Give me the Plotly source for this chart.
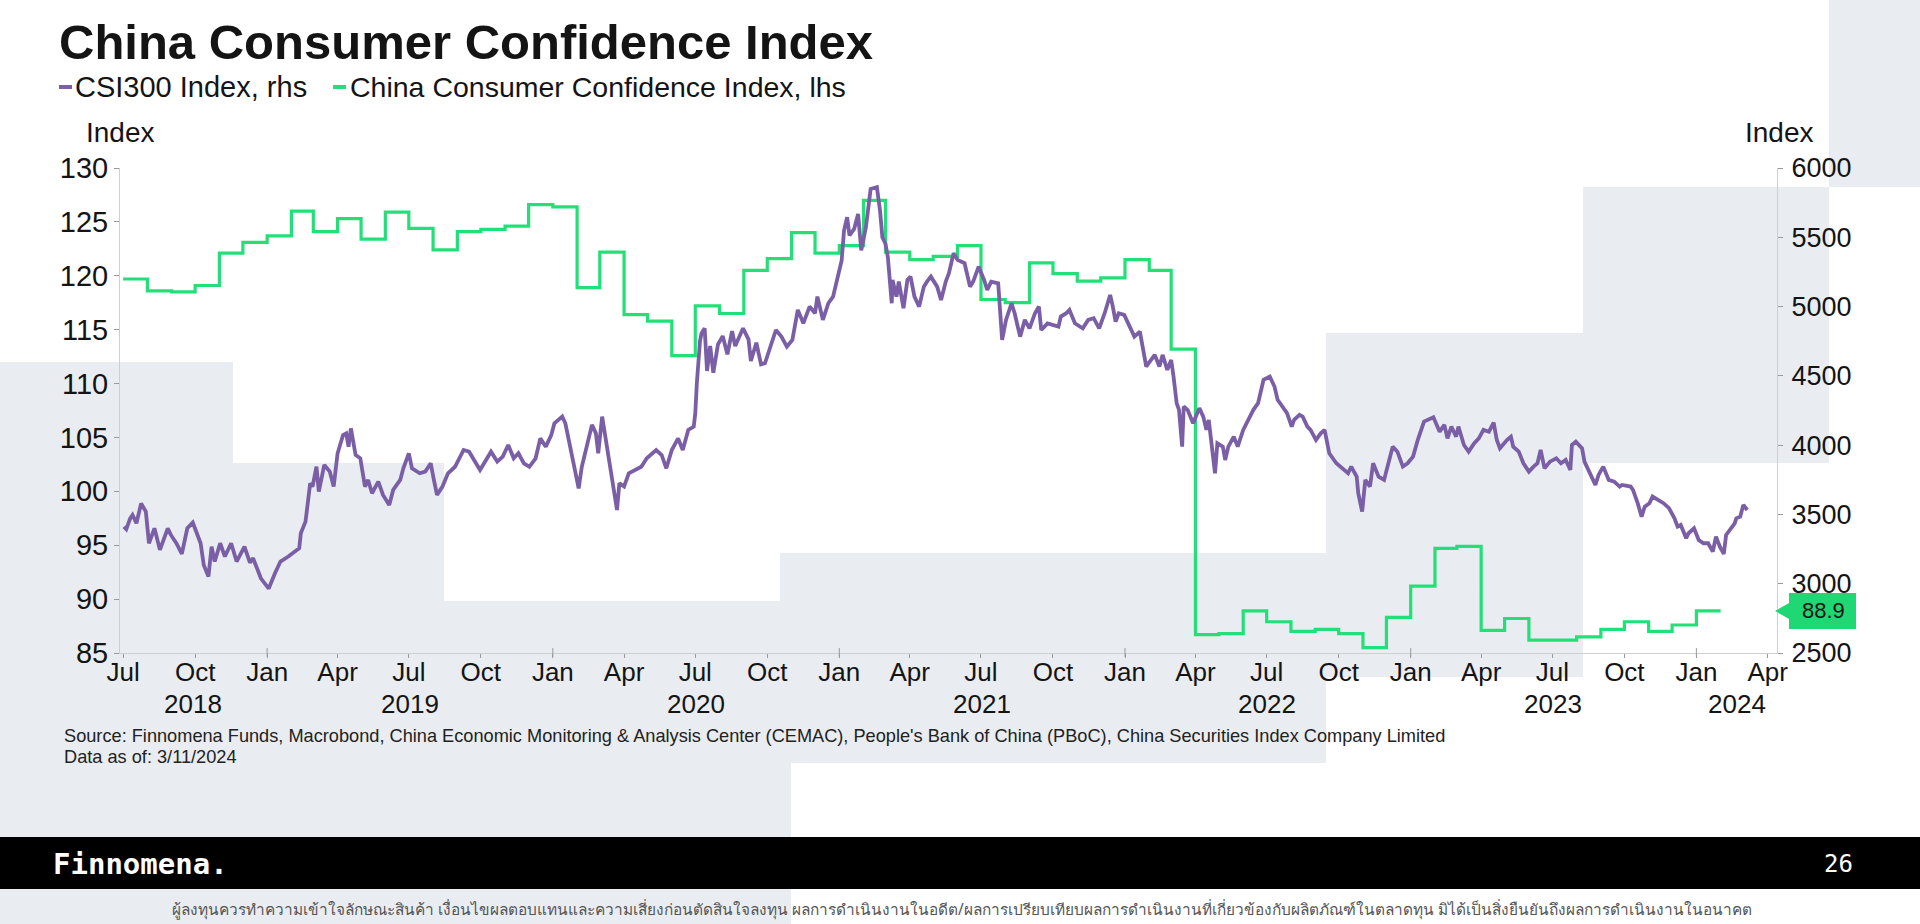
import pandas as pd
import plotly.graph_objects as go

# ---------------- data ----------------
cci_start = "2018-07-01"
cci_values = [
    119.7, 118.6, 118.5, 119.1, 122.1, 123.1,
    123.7, 126.0, 124.1, 125.3, 123.4, 125.9, 124.4, 122.4, 124.1, 124.3, 124.6, 126.6,
    126.4, 118.9, 122.2, 116.4, 115.8, 112.6, 117.2, 116.5, 120.5, 121.6, 124.0, 122.1,
    122.8, 127.0, 122.2, 121.5, 121.8, 122.8, 117.8, 117.5, 121.2, 120.2, 119.5, 119.8,
    121.5, 120.5, 113.2, 86.7, 86.8, 88.9, 87.9, 87.0, 87.2, 86.8, 85.5, 88.3,
    91.2, 94.7, 94.9, 87.1, 88.2, 86.2, 86.2, 86.5, 87.2, 87.9, 87.0, 87.6,
    88.9,
]

csi_dates = [
    "2018-07-02", "2018-07-05", "2018-07-10", "2018-07-13", "2018-07-18", "2018-07-24", "2018-07-30",
    "2018-08-03", "2018-08-10", "2018-08-17", "2018-08-27", "2018-08-31", "2018-09-07", "2018-09-14",
    "2018-09-21", "2018-09-28", "2018-10-08", "2018-10-12", "2018-10-18", "2018-10-22", "2018-10-26",
    "2018-11-02", "2018-11-08", "2018-11-16", "2018-11-23", "2018-12-03", "2018-12-10", "2018-12-14",
    "2018-12-24",
    "2019-01-03", "2019-01-11", "2019-01-18", "2019-01-28", "2019-02-11", "2019-02-13", "2019-02-19",
    "2019-02-25", "2019-02-28", "2019-03-05", "2019-03-08", "2019-03-15", "2019-03-22", "2019-03-27",
    "2019-04-01", "2019-04-08", "2019-04-12", "2019-04-15", "2019-04-18", "2019-04-24", "2019-04-30",
    "2019-05-06", "2019-05-10", "2019-05-15", "2019-05-23", "2019-05-29", "2019-06-06", "2019-06-11",
    "2019-06-20", "2019-06-24", "2019-07-01", "2019-07-05", "2019-07-15", "2019-07-22", "2019-07-29",
    "2019-08-02", "2019-08-06", "2019-08-13", "2019-08-20", "2019-08-29", "2019-09-09", "2019-09-16",
    "2019-09-23", "2019-09-30", "2019-10-14", "2019-10-22", "2019-10-29", "2019-11-05", "2019-11-12",
    "2019-11-18", "2019-11-25", "2019-12-02", "2019-12-10", "2019-12-16", "2019-12-23", "2019-12-30",
    "2020-01-03", "2020-01-13", "2020-01-17", "2020-01-23", "2020-02-03", "2020-02-07", "2020-02-13",
    "2020-02-20", "2020-02-25", "2020-02-28", "2020-03-04", "2020-03-09", "2020-03-13", "2020-03-17",
    "2020-03-23", "2020-03-26", "2020-04-01", "2020-04-07", "2020-04-16", "2020-04-23", "2020-04-30",
    "2020-05-12", "2020-05-19", "2020-05-25", "2020-06-01", "2020-06-09", "2020-06-15", "2020-06-22",
    "2020-06-29", "2020-07-01", "2020-07-03", "2020-07-07", "2020-07-09", "2020-07-13", "2020-07-16",
    "2020-07-20", "2020-07-24", "2020-07-30", "2020-08-05", "2020-08-11", "2020-08-17", "2020-08-21",
    "2020-08-31", "2020-09-07", "2020-09-10", "2020-09-17", "2020-09-23", "2020-09-28", "2020-10-12",
    "2020-10-19", "2020-10-26", "2020-11-02", "2020-11-09", "2020-11-16", "2020-11-24", "2020-12-01",
    "2020-12-04", "2020-12-11", "2020-12-18", "2020-12-24",
    "2021-01-04", "2021-01-07", "2021-01-11", "2021-01-14", "2021-01-20", "2021-01-25", "2021-01-29",
    "2021-02-04", "2021-02-10", "2021-02-18", "2021-02-22", "2021-02-25", "2021-03-01", "2021-03-04",
    "2021-03-09", "2021-03-10", "2021-03-15", "2021-03-18", "2021-03-24", "2021-03-29", "2021-04-02",
    "2021-04-07", "2021-04-13", "2021-04-19", "2021-04-23", "2021-04-28", "2021-05-06", "2021-05-11",
    "2021-05-17", "2021-05-21", "2021-05-27", "2021-06-01", "2021-06-10", "2021-06-17", "2021-06-21",
    "2021-06-28", "2021-07-05", "2021-07-09", "2021-07-14", "2021-07-23", "2021-07-28", "2021-08-02",
    "2021-08-09", "2021-08-13", "2021-08-20", "2021-08-26", "2021-09-01", "2021-09-08", "2021-09-13",
    "2021-09-16", "2021-09-24", "2021-10-08", "2021-10-11", "2021-10-18", "2021-10-22", "2021-10-29",
    "2021-11-08", "2021-11-15", "2021-11-22", "2021-11-29", "2021-12-06", "2021-12-13", "2021-12-16",
    "2021-12-20", "2021-12-24", "2021-12-31",
    "2022-01-07", "2022-01-13", "2022-01-20", "2022-01-24", "2022-01-27", "2022-01-28", "2022-02-08",
    "2022-02-14", "2022-02-18", "2022-02-24", "2022-03-01", "2022-03-04", "2022-03-08", "2022-03-11",
    "2022-03-15", "2022-03-17", "2022-03-22", "2022-03-29", "2022-04-06", "2022-04-11", "2022-04-15",
    "2022-04-18", "2022-04-22", "2022-04-26", "2022-04-29", "2022-05-06", "2022-05-09", "2022-05-13",
    "2022-05-20", "2022-05-25", "2022-06-01", "2022-06-07", "2022-06-14", "2022-06-20", "2022-06-27",
    "2022-07-05", "2022-07-11", "2022-07-15", "2022-07-21", "2022-07-27", "2022-08-02", "2022-08-05",
    "2022-08-12", "2022-08-16", "2022-08-22", "2022-08-26", "2022-09-02", "2022-09-08", "2022-09-13",
    "2022-09-19", "2022-09-28", "2022-10-10", "2022-10-13", "2022-10-17", "2022-10-24", "2022-10-26",
    "2022-10-31", "2022-11-04", "2022-11-10", "2022-11-14", "2022-11-21", "2022-11-28", "2022-12-05",
    "2022-12-09", "2022-12-15", "2022-12-22", "2022-12-28",
    "2023-01-04", "2023-01-10", "2023-01-18", "2023-01-30", "2023-02-07", "2023-02-13", "2023-02-17",
    "2023-02-22", "2023-02-28", "2023-03-03", "2023-03-10", "2023-03-16", "2023-03-23", "2023-03-29",
    "2023-04-04", "2023-04-11", "2023-04-17", "2023-04-21", "2023-04-25", "2023-05-04", "2023-05-09",
    "2023-05-12", "2023-05-19", "2023-05-25", "2023-06-01", "2023-06-07", "2023-06-12", "2023-06-16",
    "2023-06-21", "2023-06-28", "2023-07-06", "2023-07-12", "2023-07-18", "2023-07-24", "2023-07-26",
    "2023-07-31", "2023-08-08", "2023-08-11", "2023-08-18", "2023-08-25", "2023-08-29", "2023-09-04",
    "2023-09-11", "2023-09-18", "2023-09-25", "2023-09-28", "2023-10-09", "2023-10-12", "2023-10-18",
    "2023-10-23", "2023-10-27", "2023-11-02", "2023-11-06", "2023-11-13", "2023-11-20", "2023-11-27",
    "2023-12-04", "2023-12-08", "2023-12-12", "2023-12-19", "2023-12-22", "2023-12-29",
    "2024-01-04", "2024-01-10", "2024-01-16", "2024-01-22", "2024-01-26", "2024-01-31", "2024-02-05",
    "2024-02-08", "2024-02-19", "2024-02-21", "2024-02-26", "2024-03-01", "2024-03-06",
]
csi_values = [
    3411, 3393, 3472, 3496, 3436, 3580, 3520,
    3292, 3400, 3244, 3400, 3352, 3292, 3215,
    3400, 3441, 3292, 3135, 3051, 3268, 3160,
    3292, 3196, 3292, 3160, 3268, 3152, 3184,
    3039,
    2965, 3075, 3160, 3196, 3256, 3364, 3448,
    3725, 3701, 3845, 3665, 3857, 3809, 3701,
    3941, 4073, 4085, 3989, 4121, 3929, 3905,
    3701, 3749, 3653, 3737, 3641, 3568, 3677,
    3749, 3833, 3941, 3833, 3797, 3809, 3869,
    3749, 3641, 3701, 3797, 3844, 3965, 3953,
    3893, 3821, 3953, 3881, 3917, 4001, 3905,
    3941, 3869, 3844, 3905, 4049, 3989, 4073,
    4158, 4206, 4158, 4003, 3688, 3844, 3989,
    4146, 4085, 3941, 4206, 4037, 3893, 3725,
    3532, 3725, 3701, 3797, 3821, 3844, 3905,
    3965, 3929, 3833, 3965, 4049, 3965, 4110,
    4134, 4230, 4450, 4750, 4807, 4843, 4535,
    4715, 4523, 4727, 4787, 4655, 4823, 4715,
    4843, 4763, 4607, 4739, 4583, 4591, 4831,
    4783, 4711, 4759, 4976, 4879, 5000, 4952,
    5072, 4904, 5024, 5072,
    5333, 5549, 5645, 5513, 5561, 5669, 5405,
    5573, 5849, 5861, 5693, 5501, 5453, 5357,
    5024, 5192, 5072, 5180, 4988, 5192, 5216,
    5072, 5000, 5144, 5180, 5216, 5144, 5048,
    5180, 5240, 5385, 5337, 5313, 5144, 5180,
    5288, 5192, 5120, 5180, 5168, 4759, 4904,
    5024, 4952, 4783, 4904, 4843, 4952, 5000,
    4831, 4879, 4855, 4928, 4952, 4976, 4879,
    4843, 4904, 4916, 4843, 4952, 5084, 5012,
    4892, 4952, 4940,
    4855, 4783, 4819, 4711, 4603, 4567, 4651,
    4567, 4651, 4543, 4615, 4495, 4303, 4255,
    3989, 4279, 4255, 4158, 4267, 4206, 4110,
    4182, 3989, 3797, 4013, 3989, 3893, 3989,
    4061, 3989, 4110, 4182, 4255, 4303, 4471,
    4495, 4423, 4327, 4279, 4231, 4134, 4182,
    4218, 4206, 4134, 4110, 4037, 4085, 4110,
    3941, 3869, 3809, 3797, 3845, 3773, 3653,
    3520, 3749, 3701, 3869, 3773, 3749, 3917,
    3989, 3953, 3845, 3869,
    3917, 4037, 4170, 4201, 4097, 4146, 4049,
    4134, 4061, 4134, 4001, 3953, 4013, 4049,
    4110, 4097, 4162, 4037, 3977, 4037, 4061,
    3989, 3953, 3869, 3809, 3845, 3869, 3965,
    3833, 3881, 3905, 3869, 3893, 3821, 4001,
    4025, 3977, 3881, 3797, 3713, 3785, 3845,
    3749, 3737, 3701, 3713, 3701, 3677, 3581,
    3484, 3556, 3581, 3629, 3605, 3581, 3545,
    3472, 3412, 3424, 3328, 3364, 3400,
    3316, 3292, 3292, 3232, 3340, 3268, 3215,
    3352, 3436, 3472, 3484, 3569, 3532,
]

title_text = "China Consumer Confidence Index"
csi_name = "CSI300 Index, rhs"
cci_name = "China Consumer Confidence Index, lhs"
source_text = ("Source: Finnomena Funds, Macrobond, China Economic Monitoring & Analysis Center (CEMAC), "
               "People's Bank of China (PBoC), China Securities Index Company Limited")
asof_text = "Data as of: 3/11/2024"
disclaimer = ("ผู้ลงทุนควรทำความเข้าใจลักษณะสินค้า เงื่อนไขผลตอบแทนและความเสี่ยงก่อนตัดสินใจลงทุน "
              "ผลการดำเนินงานในอดีต/ผลการเปรียบเทียบผลการดำเนินงานที่เกี่ยวข้องกับผลิตภัณฑ์ในตลาดทุน "
              "มิได้เป็นสิ่งยืนยันถึงผลการดำเนินงานในอนาคต")

# ---------------- layout geometry ----------------
W, H = 1920, 924
L, R, T, B = 120, 1777, 168, 653
PW, PH = R - L, B - T


def px(x):
    return (x - L) / PW


def py(y):
    return (B - y) / PH


PURPLE = "#7A5FA6"
GREEN = "#23DF78"
GREY_BG = "#E9EDF1"
FONT = "Liberation Sans, Arial, sans-serif"
TXT = "#141414"

x_range = ["2018-06-27", "2024-04-13"]

cci_x = list(pd.date_range(cci_start, periods=len(cci_values), freq="MS"))
cci_x_full = cci_x + [cci_x[-1] + pd.offsets.MonthBegin(1)]
cci_y_full = cci_values + [cci_values[-1]]

fig = go.Figure()
fig.add_trace(go.Scatter(x=cci_x_full, y=cci_y_full, mode="lines", line=dict(color=GREEN, width=3.2, shape="hv"),
                         name=cci_name, yaxis="y", showlegend=False, hoverinfo="skip"))
fig.add_trace(go.Scatter(x=pd.to_datetime(csi_dates), y=csi_values, mode="lines",
                         line=dict(color=PURPLE, width=3.8), name=csi_name, yaxis="y2",
                         showlegend=False, hoverinfo="skip"))

shapes = []
# decorative background blocks (pixel rectangles)
bg_blocks = [
    (0, 362, 233, 837), (233, 463, 444, 837), (444, 601, 780, 763), (780, 553, 1326, 763),
    (0, 763, 791, 837), (1326, 333, 1583, 677), (1583, 187, 1829, 463), (1829, 0, 1920, 187),
    (0, 889, 791, 924),
]
for x0, y0, x1, y1 in bg_blocks:
    shapes.append(dict(type="rect", xref="paper", yref="paper", x0=px(x0), x1=px(x1), y0=py(y1), y1=py(y0),
                       fillcolor=GREY_BG, line=dict(width=0), layer="below"))
# footer band
shapes.append(dict(type="rect", xref="paper", yref="paper", x0=px(0), x1=px(W), y0=py(889), y1=py(837),
                   fillcolor="#000000", line=dict(width=0), layer="below"))
# legend dashes
shapes.append(dict(type="line", xref="paper", yref="paper", x0=px(59), x1=px(72), y0=py(87), y1=py(87),
                   line=dict(color=PURPLE, width=4)))
shapes.append(dict(type="line", xref="paper", yref="paper", x0=px(333), x1=px(346), y0=py(87), y1=py(87),
                   line=dict(color=GREEN, width=4)))
# longer year ticks at January
for d in pd.date_range("2019-01-01", x_range[1], freq="YS"):
    shapes.append(dict(type="line", xref="x", yref="paper", x0=d, x1=d, y0=5 / PH, y1=-4 / PH,
                       line=dict(color="#9A9A9A", width=1)))
# last-value marker on the right axis
last = cci_values[-1]
u = PH / 45.0
shapes.append(dict(type="rect", xref="paper", yref="y", x0=px(1789), x1=px(1856), y0=last - 18 / u,
                   y1=last + 18 / u, fillcolor="#1FD873", line=dict(width=0)))
shapes.append(dict(type="path", xref="paper", yref="y",
                   path=f"M {px(1775)},{last} L {px(1790)},{last + 8.5 / u} L {px(1790)},{last - 8.5 / u} Z",
                   fillcolor="#1FD873", line=dict(width=0)))

ann = []
ann.append(dict(text=f"<b>{title_text}</b>", x=px(57), y=py(42), xref="paper", yref="paper", xanchor="left",
                yanchor="middle", showarrow=False, font=dict(family=FONT, size=49, color=TXT)))
ann.append(dict(text=csi_name, x=px(73), y=py(87), xref="paper", yref="paper", xanchor="left", yanchor="middle",
                showarrow=False, font=dict(family=FONT, size=29, color=TXT)))
ann.append(dict(text=cci_name, x=px(348), y=py(87), xref="paper", yref="paper", xanchor="left", yanchor="middle",
                showarrow=False, font=dict(family=FONT, size=28.5, color=TXT)))
ann.append(dict(text="Index", x=px(120), y=py(132), xref="paper", yref="paper", xanchor="center",
                yanchor="middle", showarrow=False, font=dict(family=FONT, size=28, color=TXT)))
ann.append(dict(text="Index", x=px(1779), y=py(132), xref="paper", yref="paper", xanchor="center",
                yanchor="middle", showarrow=False, font=dict(family=FONT, size=28, color=TXT)))
ann.append(dict(text=f"{last}", x=px(1823), y=last, xref="paper", yref="y", xanchor="center",
                yanchor="middle", showarrow=False, font=dict(family=FONT, size=22, color=TXT)))
# year labels centred on the visible part of each year
xs, xe = pd.Timestamp(x_range[0]), pd.Timestamp(x_range[1])
for yr in range(xs.year, xe.year + 1):
    a = max(xs, pd.Timestamp(f"{yr}-01-01"))
    b = min(xe, pd.Timestamp(f"{yr}-12-31"))
    mid = a + (b - a) / 2
    ann.append(dict(text=str(yr), x=mid, y=py(704), xref="x", yref="paper", xanchor="center", yanchor="middle",
                    showarrow=False, font=dict(family=FONT, size=26, color=TXT)))
ann.append(dict(text=source_text, x=px(62), y=py(736), xref="paper", yref="paper", xanchor="left",
                yanchor="middle", showarrow=False, font=dict(family=FONT, size=18.2, color="#222222")))
ann.append(dict(text=asof_text, x=px(62), y=py(757), xref="paper", yref="paper", xanchor="left",
                yanchor="middle", showarrow=False, font=dict(family=FONT, size=18.2, color="#222222")))
ann.append(dict(text="<b>Finnomena.</b>", x=px(51), y=py(864), xref="paper", yref="paper", xanchor="left",
                yanchor="middle", showarrow=False, font=dict(family="DejaVu Sans Mono, monospace", size=29,
                                                              color="#FFFFFF")))
ann.append(dict(text="26", x=px(1838), y=py(864), xref="paper", yref="paper", xanchor="center",
                yanchor="middle", showarrow=False, font=dict(family="DejaVu Sans Mono, monospace", size=24,
                                                              color="#FFFFFF")))
ann.append(dict(text=disclaimer, x=px(962), y=py(909), xref="paper", yref="paper", xanchor="center",
                yanchor="middle", showarrow=False, font=dict(family="Noto Sans, DejaVu Sans, sans-serif", size=15.4,
                                                              color="#555555")))

axis_common = dict(showgrid=False, zeroline=False, showline=True, linecolor="#CFCFCF", linewidth=1,
                   ticks="outside", ticklen=5, tickcolor="#9A9A9A", tickwidth=1)

fig.update_layout(
    width=W, height=H, autosize=False,
    margin=dict(l=L, r=W - R, t=T, b=H - B, pad=0),
    paper_bgcolor="#FFFFFF", plot_bgcolor="rgba(0,0,0,0)",
    showlegend=False,
    shapes=shapes, annotations=ann,
    xaxis=dict(type="date", range=x_range, dtick="M3", tick0="2018-07-01", tickformat="%b",
               showgrid=False, zeroline=False, showline=True, linecolor="#CFCFCF", linewidth=1,
               ticks="outside", ticklen=4, tickcolor="#9A9A9A", tickwidth=1, ticklabelstandoff=-8,
               tickfont=dict(family=FONT, size=26, color=TXT)),
    yaxis=dict(range=[85, 130], dtick=5, tick0=85, side="left",
               tickfont=dict(family=FONT, size=29, color=TXT), **axis_common),
    yaxis2=dict(range=[2500, 6000], dtick=500, tick0=2500, side="right", overlaying="y", anchor="x",
                ticklabelstandoff=3, tickfont=dict(family=FONT, size=27, color=TXT), **axis_common),
)

fig.write_html("out.html", config={"displayModeBar": False},
               post_script="document.body.style.margin='0';document.body.style.overflow='hidden';")
